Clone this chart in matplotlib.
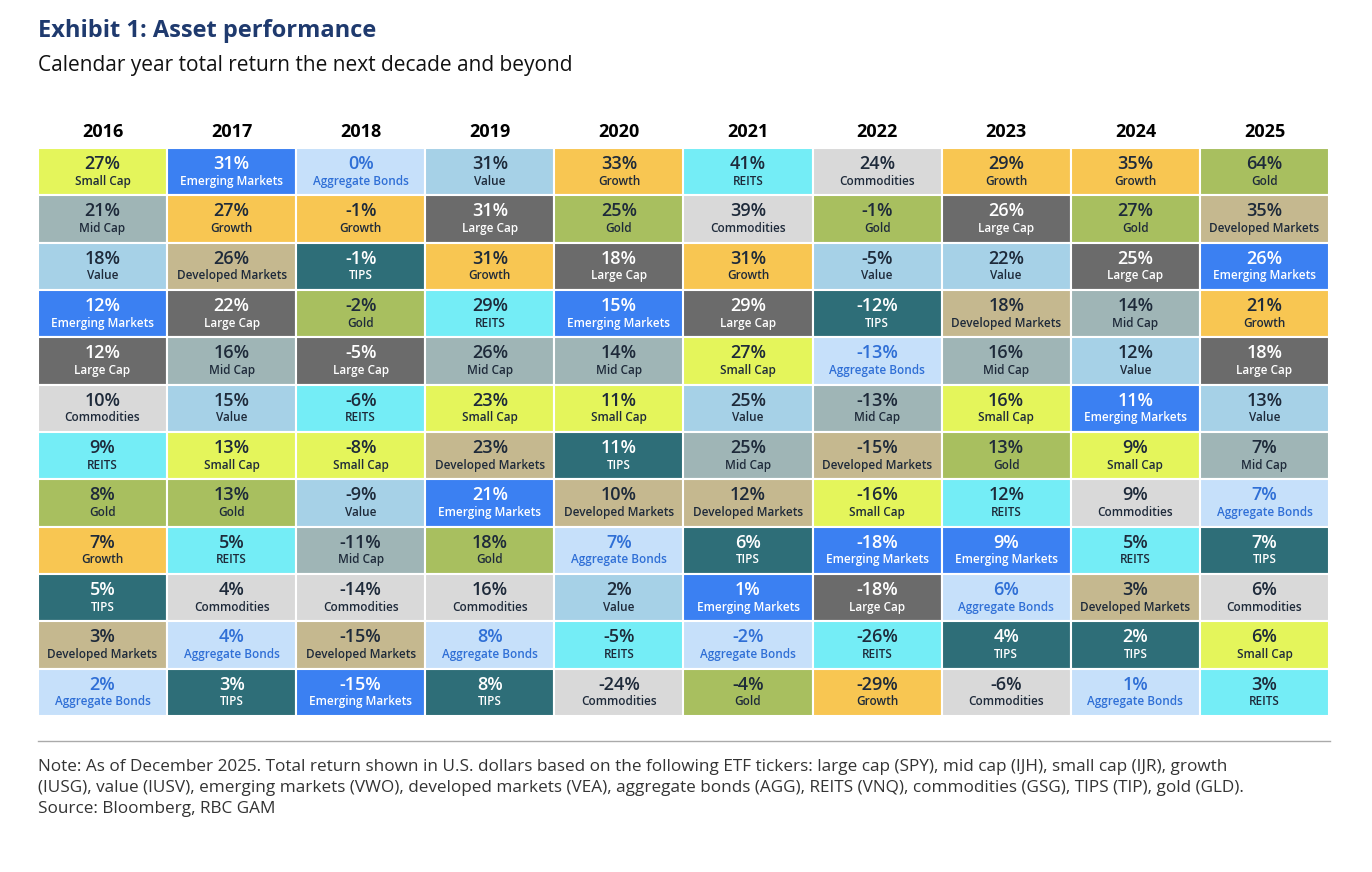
import matplotlib.pyplot as plt

plt.rcParams['font.family'] = ['Open Sans', 'DejaVu Sans']

years = [2016, 2017, 2018, 2019, 2020, 2021, 2022, 2023, 2024, 2025]

# each column top to bottom: (asset, return %)
assets = {
    2016: ['Small Cap', 'Mid Cap', 'Value', 'Emerging Markets', 'Large Cap', 'Commodities',
           'REITS', 'Gold', 'Growth', 'TIPS', 'Developed Markets', 'Aggregate Bonds'],
    2017: ['Emerging Markets', 'Growth', 'Developed Markets', 'Large Cap', 'Mid Cap', 'Value',
           'Small Cap', 'Gold', 'REITS', 'Commodities', 'Aggregate Bonds', 'TIPS'],
    2018: ['Aggregate Bonds', 'Growth', 'TIPS', 'Gold', 'Large Cap', 'REITS', 'Small Cap',
           'Value', 'Mid Cap', 'Commodities', 'Developed Markets', 'Emerging Markets'],
    2019: ['Value', 'Large Cap', 'Growth', 'REITS', 'Mid Cap', 'Small Cap', 'Developed Markets',
           'Emerging Markets', 'Gold', 'Commodities', 'Aggregate Bonds', 'TIPS'],
    2020: ['Growth', 'Gold', 'Large Cap', 'Emerging Markets', 'Mid Cap', 'Small Cap', 'TIPS',
           'Developed Markets', 'Aggregate Bonds', 'Value', 'REITS', 'Commodities'],
    2021: ['REITS', 'Commodities', 'Growth', 'Large Cap', 'Small Cap', 'Value', 'Mid Cap',
           'Developed Markets', 'TIPS', 'Emerging Markets', 'Aggregate Bonds', 'Gold'],
    2022: ['Commodities', 'Gold', 'Value', 'TIPS', 'Aggregate Bonds', 'Mid Cap',
           'Developed Markets', 'Small Cap', 'Emerging Markets', 'Large Cap', 'REITS', 'Growth'],
    2023: ['Growth', 'Large Cap', 'Value', 'Developed Markets', 'Mid Cap', 'Small Cap', 'Gold',
           'REITS', 'Emerging Markets', 'Aggregate Bonds', 'TIPS', 'Commodities'],
    2024: ['Growth', 'Gold', 'Large Cap', 'Mid Cap', 'Value', 'Emerging Markets', 'Small Cap',
           'Commodities', 'REITS', 'Developed Markets', 'TIPS', 'Aggregate Bonds'],
    2025: ['Gold', 'Developed Markets', 'Emerging Markets', 'Growth', 'Large Cap', 'Value',
           'Mid Cap', 'Aggregate Bonds', 'TIPS', 'Commodities', 'Small Cap', 'REITS'],
}
returns = {
    2016: [27, 21, 18, 12, 12, 10, 9, 8, 7, 5, 3, 2],
    2017: [31, 27, 26, 22, 16, 15, 13, 13, 5, 4, 4, 3],
    2018: [0, -1, -1, -2, -5, -6, -8, -9, -11, -14, -15, -15],
    2019: [31, 31, 31, 29, 26, 23, 23, 21, 18, 16, 8, 8],
    2020: [33, 25, 18, 15, 14, 11, 11, 10, 7, 2, -5, -24],
    2021: [41, 39, 31, 29, 27, 25, 25, 12, 6, 1, -2, -4],
    2022: [24, -1, -5, -12, -13, -13, -15, -16, -18, -18, -26, -29],
    2023: [29, 26, 22, 18, 16, 16, 13, 12, 9, 6, 4, -6],
    2024: [35, 27, 25, 14, 12, 11, 9, 9, 5, 3, 2, 1],
    2025: [64, 35, 26, 21, 18, 13, 7, 7, 7, 6, 6, 3],
}

# fill colour, text colour
style = {
    'Small Cap': ('#e4f55b', '#1e2a3a'),
    'Mid Cap': ('#9fb5b6', '#1e2a3a'),
    'Value': ('#a6d1e7', '#1e2a3a'),
    'Emerging Markets': ('#3b80f2', 'white'),
    'Large Cap': ('#6b6b6b', 'white'),
    'Commodities': ('#d9d9d9', '#1e2a3a'),
    'REITS': ('#74edf6', '#1e2a3a'),
    'Gold': ('#a8bf5f', '#1e2a3a'),
    'Growth': ('#f8c652', '#1e2a3a'),
    'TIPS': ('#2e6e78', 'white'),
    'Developed Markets': ('#c5b88f', '#1e2a3a'),
    'Aggregate Bonds': ('#c6e0fa', '#2f6fd6'),
}

fig = plt.figure(figsize=(13.72, 8.72), dpi=100)
ax = fig.add_axes([38 / 1372, 1 - 716 / 872, 1291 / 1372, 568 / 872])

for i, y in enumerate(years):
    for r, (name, val) in enumerate(zip(assets[y], returns[y])):
        fc, tc = style[name]
        ax.bar(i, 1, bottom=r, width=1, color=fc, edgecolor='white', linewidth=1.5)
        ax.text(i, r + 0.34, f'{val}%', ha='center', va='center', fontsize=13,
                fontweight='semibold', color=tc)
        ax.text(i, r + 0.7, name, ha='center', va='center', fontsize=8.5,
                fontweight='semibold', color=tc)
    ax.text(i, -0.33, str(y), ha='center', va='center', fontsize=13,
            fontweight='bold', color='black')

ax.set_xlim(-0.5, len(years) - 0.5)
ax.set_ylim(12, 0)
ax.axis('off')

fig.text(38 / 1372, 1 - 31 / 872, 'Exhibit 1: Asset performance', fontsize=17,
         fontweight='bold', color='#1f3a6e', va='center')
fig.text(38 / 1372, 1 - 65 / 872, 'Calendar year total return the next decade and beyond',
         fontsize=15, color='#111111', va='center')

fig.add_artist(plt.Line2D([38 / 1372, 1330 / 1372], [1 - 741 / 872] * 2,
                          color='#aaaaaa', linewidth=1))
note = ('Note: As of December 2025. Total return shown in U.S. dollars based on the following ETF tickers: '
        'large cap (SPY), mid cap (IJH), small cap (IJR), growth\n'
        '(IUSG), value (IUSV), emerging markets (VWO), developed markets (VEA), aggregate bonds (AGG), '
        'REITS (VNQ), commodities (GSG), TIPS (TIP), gold (GLD).\n'
        'Source: Bloomberg, RBC GAM')
fig.text(38 / 1372, 1 - 759 / 872, note, fontsize=12.3, color='#333333', va='top',
         linespacing=1.4)

fig.savefig('out.png', dpi=100, facecolor='white')
